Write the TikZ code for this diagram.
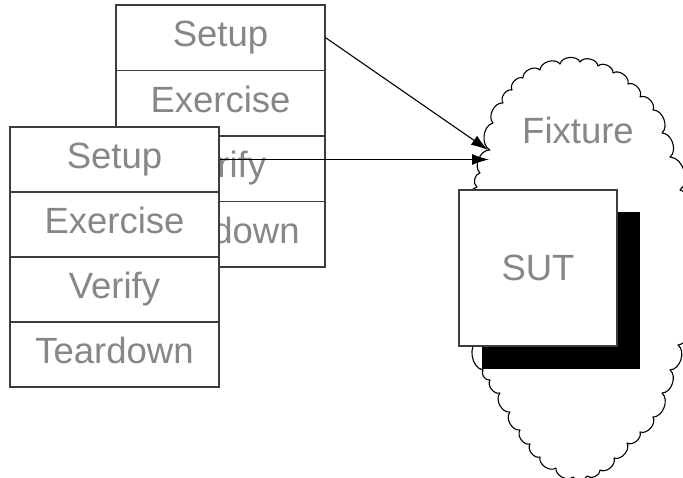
\documentclass[tikz,border=0pt]{standalone}
\usepackage{fontspec}
\setmainfont{Liberation Sans}
\usetikzlibrary{arrows.meta}
\definecolor{labelgray}{RGB}{135,135,135}
\definecolor{edgegray}{RGB}{60,60,60}
\tikzset{
  phase/.style={draw=edgegray, line width=1.4pt, fill=white, rectangle,
    minimum width=209pt, inner sep=0pt, text=labelgray,
    font=\fontsize{36.5}{42}\selectfont, text height=26pt, text depth=7.5pt},
  backphase/.style={phase, minimum height=65.5pt},
  frontphase/.style={phase, minimum height=65pt},
  link/.style={draw=black, line width=1.1pt, -{Latex[length=17pt,width=11pt]}},
  label/.style={text=labelgray, font=\fontsize{36.5}{42}\selectfont, inner sep=0pt},
  cloudline/.style={draw=black, line width=1.1pt, fill=white, line join=round},
  puff/.style={bend left=70}
}
\begin{document}
\begin{tikzpicture}[x=1pt,y=-1pt]
  \path[use as bounding box, clip] (0,0) rectangle (683,478);

  % fixture cloud: scalloped egg outline, partly outside the frame
  \draw[cloudline] (490,150)
    \foreach \px/\py in {493/123, 503/103, 512/90, 523/78, 540/70, 560/64,
                    580/62, 598/66, 613/73, 628/84, 640/97, 653/110,
                    662/133, 670/157, 680/190, 686/225, 688/262, 686/300,
                    678/345, 670/370, 662/393, 653/417, 640/432, 627/443,
                    614/458, 600/470, 587/476, 573/477, 556/468, 540/457,
                    530/444, 520/430, 510/412, 500/393, 490/380, 483/370,
                    478/340, 475/300, 474/260, 475/220, 477/187, 480/173,
                    490/150} { to[puff] (\px,\py) } -- cycle;
  \node[label] (fixlabel) at (578,130) {Fixture};

  % first test: four phases
  \node[backphase] (bsetup)    at (220.5,37.75)  {Setup};
  \node[backphase] (bexercise) at (220.5,103.25) {Exercise};
  \node[backphase] (bverify)   at (220.5,168.75) {Verify};
  \node[backphase] (bteardown) at (220.5,234.25) {Teardown};

  % second test, in front of the first
  \node[frontphase] (fsetup)    at (114.5,159.5) {Setup};
  \node[frontphase] (fexercise) at (114.5,224.5) {Exercise};
  \node[frontphase] (fverify)   at (114.5,289.5) {Verify};
  \node[frontphase] (fteardown) at (114.5,354.5) {Teardown};

  % setup phases build the fixture
  \coordinate (tipa) at (488,150);
  \coordinate (tipb) at (489,159.5);
  \draw[link] (bsetup.east) -- (tipa);
  \draw[link] (fsetup.east) -- (tipb);

  % system under test with its drop shadow
  \fill[black] (482,212) rectangle (640,369);
  \node[draw=edgegray, line width=1.4pt, fill=white, minimum width=158pt,
        minimum height=156pt, inner sep=0pt, text=labelgray,
        font=\fontsize{36.5}{42}\selectfont] (sut) at (538,268) {SUT};
\end{tikzpicture}
\end{document}
